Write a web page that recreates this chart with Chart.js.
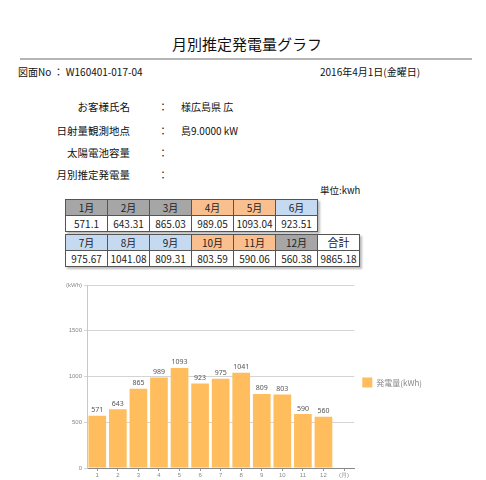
<!DOCTYPE html>
<html><head><meta charset="utf-8">
<script src="https://cdn.jsdelivr.net/npm/chart.js@4"></script>
<style>
html,body{margin:0;padding:0;background:#fff;}
body{width:486px;height:480px;position:relative;overflow:hidden;font-family:"Noto Sans CJK JP","Noto Sans",sans-serif;color:#111;}
.a{position:absolute;white-space:nowrap;line-height:1;}
#title{left:0;width:494px;text-align:center;top:36px;font-size:15px;}
#rule{position:absolute;left:20px;width:452px;top:58px;height:2px;background:#b5b5b5;}
.s10{font-size:10px;}
.lbl{font-size:10.5px;text-align:right;width:120px;left:10px;}
.col{font-size:10px;left:158px;}
.val{font-size:10px;left:181px;}
table{position:absolute;left:65px;border-collapse:collapse;font-size:10px;color:#222;}
td{width:41px;height:15px;border:1px solid #555;text-align:center;padding:0;line-height:15px;}
#t1{top:199px;box-shadow:2px 2px 2px #bbb;}
#t2{top:234px;box-shadow:2px 2px 2px #bbb;}
#cv{position:absolute;left:40px;top:270px;}
</style></head>
<body>
<div class="a" id="title">月別推定発電量グラフ</div>
<div id="rule"></div>
<div class="a s10" style="left:18px;top:67px;">図面No ： W160401-017-04</div>
<div class="a s10" style="left:320px;top:67px;">2016年4月1日(金曜日)</div>
<div class="a lbl" style="top:102px;">お客様氏名</div>
<div class="a lbl" style="top:126px;">日射量観測地点</div>
<div class="a lbl" style="top:148px;">太陽電池容量</div>
<div class="a lbl" style="top:170px;">月別推定発電量</div>
<div class="a col" style="top:102px;">：</div>
<div class="a col" style="top:126px;">：</div>
<div class="a col" style="top:148px;">：</div>
<div class="a col" style="top:170px;">：</div>
<div class="a val" style="top:102px;">様広島県 広</div>
<div class="a val" style="top:126px;">島9.0000 kW</div>
<div class="a s10" style="left:320px;top:186px;font-size:9.5px;">単位:kwh</div>
<table id="t1"><tr id="h1"></tr><tr id="v1"></tr></table>
<table id="t2"><tr id="h2"></tr><tr id="v2"></tr></table>
<canvas id="cv" width="446" height="210"></canvas>
<script>
const months = ['1月','2月','3月','4月','5月','6月','7月','8月','9月','10月','11月','12月'];
const monthlyValues = [571.1, 643.31, 865.03, 989.05, 1093.04, 923.51, 975.67, 1041.08, 809.31, 803.59, 590.06, 560.38];
const totalLabel = '合計';
const totalValue = 9865.18;
const seasonKinds = ['g','g','g','o','o','b','b','b','b','o','o','g'];
const xTickLabels = ['1','2','3','4','5','6','7','8','9','10','11','12','(月)'];
const yTickValues = [0, 500, 1000, 1500, 2000];
const yUnitLabel = '(kWh)';
const seriesName = '発電量(kWh)';

const kindColor = {g:'#a6a6a6', o:'#fabf8f', b:'#c5d9f1'};
function fmt(v){ return String(v); }
function fillRow(hId, vId, from, to, extra){
  const h = document.getElementById(hId), v = document.getElementById(vId);
  for(let i=from;i<to;i++){
    const th = document.createElement('td'); th.textContent = months[i]; th.style.background = kindColor[seasonKinds[i]]; h.appendChild(th);
    const tv = document.createElement('td'); tv.textContent = fmt(monthlyValues[i]); v.appendChild(tv);
  }
  if(extra){
    const th = document.createElement('td'); th.textContent = totalLabel; th.style.background='#fff'; th.style.fontSize='11px'; h.appendChild(th);
    const tv = document.createElement('td'); tv.textContent = fmt(totalValue); v.appendChild(tv);
  }
}
fillRow('h1','v1',0,6,false);
fillRow('h2','v2',6,12,true);

const barData = monthlyValues.concat([null]);

const valueLabels = {
  id:'valueLabels',
  afterDatasetsDraw(chart){
    const ctx = chart.ctx;
    const meta = chart.getDatasetMeta(0);
    ctx.save();
    ctx.font = '7px "Noto Sans","DejaVu Sans",sans-serif';
    ctx.fillStyle = '#555';
    ctx.textAlign = 'center';
    ctx.textBaseline = 'bottom';
    meta.data.forEach((el,i)=>{
      const v = chart.data.datasets[0].data[i];
      if(v==null) return;
      ctx.fillText(String(Math.floor(v)), el.x, el.y - 2);
    });
    ctx.restore();
  }
};

new Chart(document.getElementById('cv'), {
  type:'bar',
  data:{
    labels:xTickLabels,
    datasets:[{label:seriesName, data:barData, backgroundColor:'#ffbd5e', borderWidth:0, barPercentage:0.86, categoryPercentage:1}]
  },
  options:{
    responsive:false, animation:false,
    layout:{padding:{left:0,top:15,right:54,bottom:0}},
    plugins:{
      tooltip:{enabled:false},
      legend:{position:'right', align:'center',
        labels:{boxWidth:10, boxHeight:10, padding:8, color:'#888', font:{size:8, family:'"Noto Sans CJK JP","Noto Sans",sans-serif'}}}
    },
    scales:{
      x:{
        afterFit(s){ s.height = 12; },
        grid:{display:true, drawOnChartArea:false, drawTicks:true, tickLength:3, offset:false, color:'#999'},
        border:{color:'#888'},
        ticks:{color:'#888', font:{size:6}, padding:1, maxRotation:0, autoSkip:false}
      },
      y:{
        min:0, max:2000,
        afterFit(s){ s.width = 47; },
        afterBuildTicks(s){ s.ticks = yTickValues.map(v=>({value:v})); },
        grid:{color:'#d4d4d4', tickLength:3},
        border:{color:'#c8c8c8'},
        ticks:{color:'#888', font:{size:6}, padding:2, callback:(v)=> v===2000 ? yUnitLabel : String(v)}
      }
    }
  },
  plugins:[valueLabels]
});
</script>
</body></html>
